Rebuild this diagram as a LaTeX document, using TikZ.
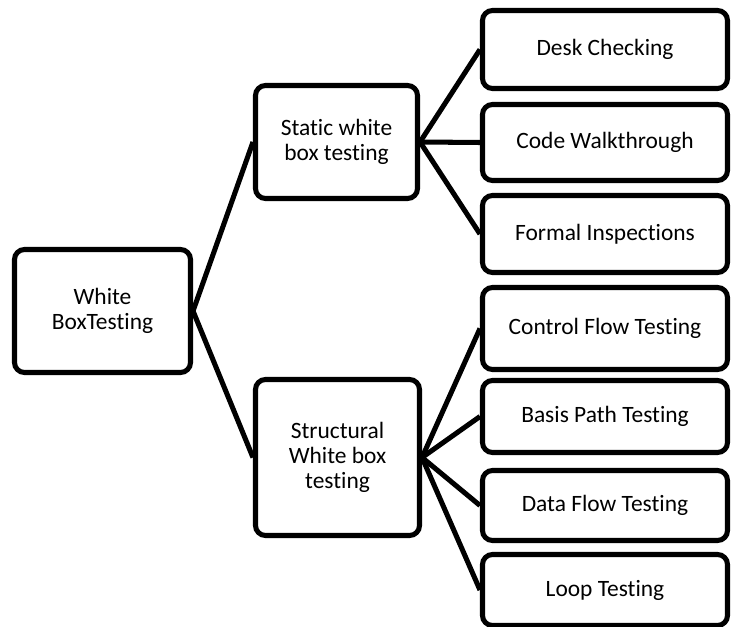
\documentclass[tikz,border=0pt]{standalone}
\usepackage{fontspec}
\setmainfont{Carlito}[Ligatures=NoCommon]
\usepackage{tikz}
\usetikzlibrary{calc}

\begin{document}
\begin{tikzpicture}[x=0.03cm,y=-0.03cm,
    box/.style={draw,line width=4.3pt,rounded corners=0.3cm,align=center,
                font=\fontsize{20}{21.5}\selectfont,inner sep=0pt},
    leaf/.style={box,minimum width=7.35cm},
    link/.style={line width=4.3pt}]
                      \useasboundingbox (0,0) rectangle (731,627);
                      \node[box,minimum width=5.28cm,minimum height=3.69cm](root)at(102.5,311){White\\BoxTesting};
                      \node[box,minimum width=4.86cm,minimum height=3.39cm](stat)at(336.5,142){Static white\\box testing};
                      \node[box,minimum width=4.92cm,minimum height=4.68cm](struct)at(337.5,457.5){Structural\\White box\\testing};
                      \node[leaf,minimum height=2.34cm](desk)at(605,49.5){Desk Checking};
                      \node[leaf,minimum height=2.28cm](walk)at(605,142.5){Code Walkthrough};
                      \node[leaf,minimum height=2.31cm](insp)at(605,234){Formal Inspections};
                      \node[leaf,minimum height=2.46cm](cflow)at(605,328.5){Control Flow Testing};
                      \node[leaf,minimum height=2.16cm](bpath)at(605,416.5){Basis Path Testing};
                      \node[leaf,minimum height=2.1cm](dflow)at(605,505.5){Data Flow Testing};
                      \node[leaf,minimum height=2.13cm](loop)at(605,590){Loop Testing};
                      \draw[link] (root.east) -- (stat.west);
                      \draw[link] (root.east) -- (struct.west);
                      \foreach \c in {desk,walk,insp}
                        \draw[link] (stat.east) -- (\c.west);
                      \foreach \c in {cflow,bpath,dflow,loop}
                        \draw[link] (struct.east) -- (\c.west);
                  \end{tikzpicture}
\end{document}
